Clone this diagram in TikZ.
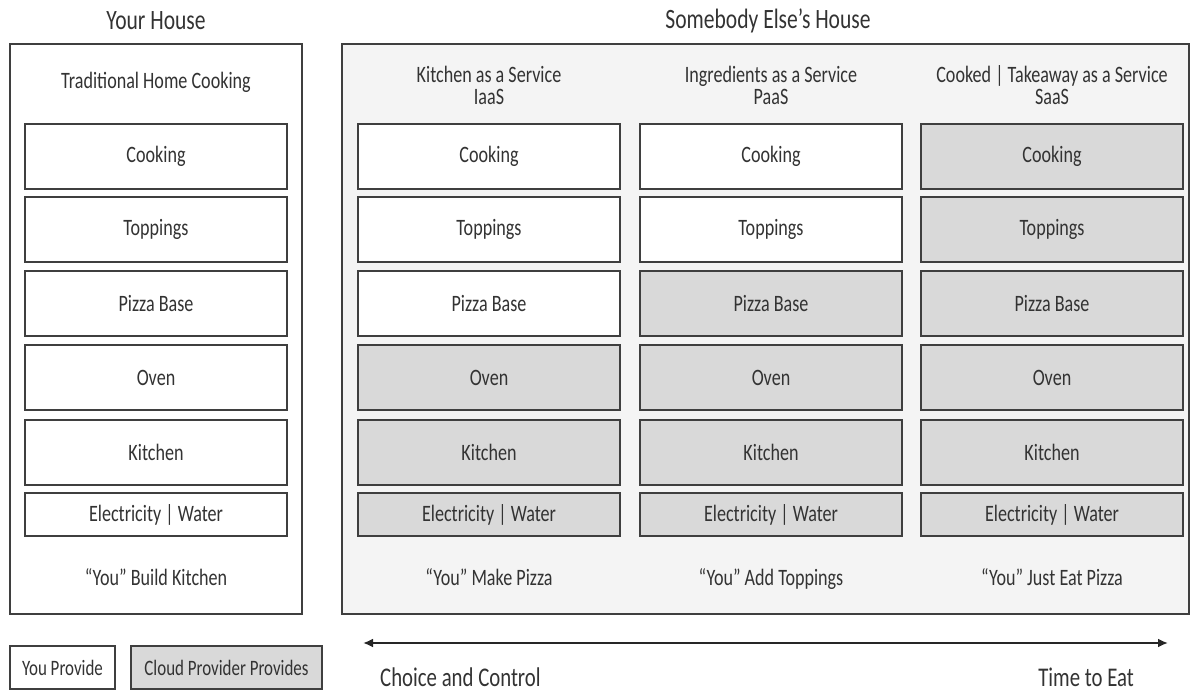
\documentclass[tikz,border=0pt]{standalone}
\usepackage{fontspec}
\setmainfont{Carlito}[FakeStretch=0.77]
\usetikzlibrary{arrows.meta}
\definecolor{ink}{HTML}{333333}
\definecolor{frame}{HTML}{3F3F3F}
\definecolor{provided}{HTML}{D9D9D9}
\definecolor{hostbg}{HTML}{F4F4F4}

\begin{document}
\begin{tikzpicture}[x=1pt,y=-1pt,
  house/.style={draw=frame, line width=1.6pt, inner sep=0pt},
  layer/.style={draw=frame, line width=1.6pt, minimum width=262pt, inner sep=0pt,
    text=ink, font=\fontsize{23.5}{26}\selectfont},
  caption/.style={text=ink, align=center, inner sep=0pt, font=\fontsize{23.5}{22}\selectfont},
  heading/.style={text=ink, inner sep=0pt, font=\fontsize{28}{30}\selectfont},
  axislabel/.style={text=ink, inner sep=0pt, font=\fontsize{27}{30}\selectfont},
  legendbox/.style={draw=frame, line width=1.6pt, minimum height=43pt, inner sep=0pt,
    text=ink, font=\fontsize{22}{24}\selectfont},
  axis/.style={draw=black!85, line width=2.6pt, {Latex[length=10pt,width=9pt]}-{Latex[length=10pt,width=9pt]}}]

\useasboundingbox (0,0) rectangle (1191,692);

% the two houses
\node[house, fill=white, minimum width=292pt, minimum height=570pt] (own) at (156,329) {};
\node[house, fill=hostbg, minimum width=847pt, minimum height=570pt] (host) at (765.5,329) {};

\node[heading] (ownTitle) at (156,21) {Your House};
\node[heading] (hostTitle) at (768,21) {Somebody Else's House};

% column headers
\node[caption] (h1) at (156,82) {Traditional Home Cooking};
\node[caption] (h2) at (489,85) {Kitchen as a Service\\IaaS};
\node[caption] (h3) at (771,85) {Ingredients as a Service\\PaaS};
\node[caption] (h4) at (1052,85) {Cooked {|} Takeaway as a Service\\SaaS};

% stacks of layers; rows from \t downwards are provided by the cloud
\foreach \c/\x/\t in {1/156/7, 2/489/4, 3/771/3, 4/1052/1}{
  \foreach \r/\y/\h/\lbl in {1/156.5/65/Cooking, 2/229.5/65/Toppings,
      3/303.5/65/Pizza Base, 4/377.5/65/Oven, 5/452.5/65/Kitchen,
      6/514.5/43/Electricity {|} Water}{
    \ifnum\r<\t \def\fillc{white}\else\def\fillc{provided}\fi
    \node[layer, fill=\fillc, minimum height=\h pt] (c\c r\r) at (\x,\y) {\lbl};
  }
}

% who does what
\node[caption, anchor=base] (f1) at (156,585) {“You” Build Kitchen};
\node[caption, anchor=base] (f2) at (489,585) {“You” Make Pizza};
\node[caption, anchor=base] (f3) at (771,585) {“You” Add Toppings};
\node[caption, anchor=base] (f4) at (1052,585) {“You” Just Eat Pizza};

% legend
\node[legendbox, fill=white, minimum width=105pt] (youKey) at (62.5,667.5) {You Provide};
\node[legendbox, fill=provided, minimum width=191pt] (cloudKey) at (226.5,667.5) {Cloud Provider Provides};

% trade-off axis
\coordinate (axL) at (363,643);
\coordinate (axR) at (1168,643);
\draw[axis] (axL) -- (axR);
\node[axislabel, anchor=base west] (choice) at (380,686) {Choice and Control};
\node[axislabel, anchor=base east] (eat) at (1134,686) {Time to Eat};

\end{tikzpicture}
\end{document}
